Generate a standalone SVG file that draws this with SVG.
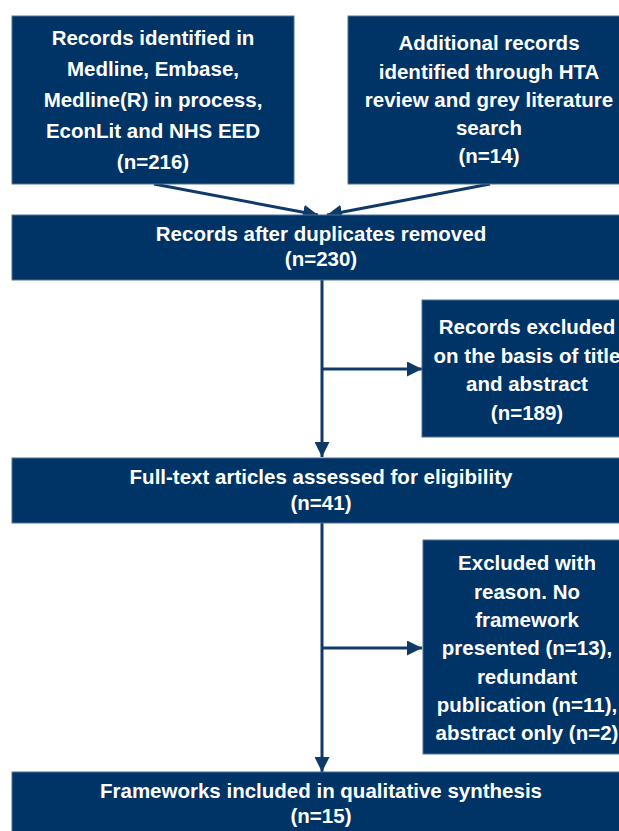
<svg xmlns="http://www.w3.org/2000/svg" width="619" height="831" viewBox="0 0 619 831">
<style>
.box{fill:#003366;stroke:#4f729a;stroke-width:1}
.t{font-family:"Liberation Sans",Arial,sans-serif;font-weight:bold;font-size:20.5px;fill:#ffffff;text-anchor:middle}
.c{stroke:#0f3a68;stroke-width:3;fill:none}
</style>
<defs>
<marker id="ah" viewBox="0 0 10 10" refX="10" refY="5" markerWidth="5" markerHeight="5" markerUnits="strokeWidth" orient="auto">
<path d="M0,0 L10,5 L0,10 z" fill="#0f3a68"/>
</marker>
</defs>
<rect width="619" height="831" fill="#ffffff"/>
<g id="connectors">
<line class="c" x1="154" y1="184" x2="318" y2="215" marker-end="url(#ah)"/>
<line class="c" x1="490" y1="184" x2="327" y2="215" marker-end="url(#ah)"/>
<line class="c" x1="322" y1="280" x2="322" y2="457" marker-end="url(#ah)"/>
<line class="c" x1="322" y1="369" x2="422" y2="369" marker-end="url(#ah)"/>
<line class="c" x1="322" y1="523" x2="322" y2="772" marker-end="url(#ah)"/>
<line class="c" x1="322" y1="648" x2="422" y2="648" marker-end="url(#ah)"/>
</g>
<g id="n1">
<rect class="box" x="12" y="16" width="282" height="168"/>
<text class="t"><tspan x="153" y="45">Records identified in</tspan><tspan x="153" y="76">Medline, Embase,</tspan><tspan x="153" y="107">Medline(R) in process,</tspan><tspan x="153" y="138">EconLit and NHS EED</tspan><tspan x="153" y="169">(n=216)</tspan></text>
</g>
<g id="n2">
<rect class="box" x="348" y="16" width="284" height="168"/>
<text class="t"><tspan x="489" y="50">Additional records</tspan><tspan x="489" y="79">identified through HTA</tspan><tspan x="489" y="107">review and grey literature</tspan><tspan x="489" y="135">search</tspan><tspan x="489" y="163">(n=14)</tspan></text>
</g>
<g id="n3">
<rect class="box" x="12" y="215" width="620" height="65"/>
<text class="t"><tspan x="321" y="241">Records after duplicates removed</tspan><tspan x="321" y="266">(n=230)</tspan></text>
</g>
<g id="n4">
<rect class="box" x="422" y="300" width="210" height="137"/>
<text class="t"><tspan x="527" y="334">Records excluded</tspan><tspan x="527" y="363">on the basis of title</tspan><tspan x="527" y="391">and abstract</tspan><tspan x="527" y="420">(n=189)</tspan></text>
</g>
<g id="n5">
<rect class="box" x="12" y="458" width="620" height="65"/>
<text class="t"><tspan x="321" y="484">Full-text articles assessed for eligibility</tspan><tspan x="321" y="510">(n=41)</tspan></text>
</g>
<g id="n6">
<rect class="box" x="423" y="540" width="209" height="214"/>
<text class="t"><tspan x="527" y="570">Excluded with</tspan><tspan x="527" y="599">reason. No</tspan><tspan x="527" y="627">framework</tspan><tspan x="527" y="655">presented (n=13),</tspan><tspan x="527" y="684">redundant</tspan><tspan x="527" y="712">publication (n=11),</tspan><tspan x="527" y="740">abstract only (n=2)</tspan></text>
</g>
<g id="n7">
<rect class="box" x="12" y="772" width="620" height="70"/>
<text class="t"><tspan x="321" y="798">Frameworks included in qualitative synthesis</tspan><tspan x="321" y="823">(n=15)</tspan></text>
</g>
</svg>
